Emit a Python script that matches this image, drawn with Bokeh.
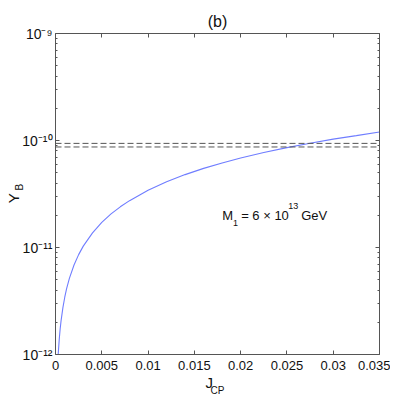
from bokeh.plotting import figure
from bokeh.models import LogAxis, LinearAxis, FixedTicker, Span, Label, Range1d
from bokeh.embed import file_html
from bokeh.resources import INLINE

# ---- data ----
j_cp = [0.00029, 0.0004, 0.0005, 0.0006, 0.0008, 0.001, 0.0012, 0.0015, 0.002,
        0.0025, 0.003, 0.004, 0.005, 0.006, 0.007, 0.008, 0.01, 0.012, 0.014,
        0.016, 0.018, 0.02, 0.0225, 0.025, 0.0275, 0.03, 0.0325, 0.035]
y_b = [1.0e-12, 1.37e-12, 1.72e-12, 2.06e-12, 2.74e-12, 3.43e-12, 4.12e-12, 5.15e-12, 6.86e-12,
       8.58e-12, 1.03e-11, 1.37e-11, 1.72e-11, 2.06e-11, 2.40e-11, 2.74e-11, 3.43e-11, 4.12e-11, 4.80e-11,
       5.49e-11, 6.17e-11, 6.86e-11, 7.72e-11, 8.58e-11, 9.43e-11, 1.03e-10, 1.11e-10, 1.20e-10]
obs_bounds = [8.7e-11, 9.4e-11]

x_ticks = [0, 0.005, 0.01, 0.015, 0.02, 0.025, 0.03, 0.035]
x_tick_labels = ["0", "0.005", "0.01", "0.015", "0.02", "0.025", "0.03", "0.035"]
y_ticks = [1e-12, 1e-11, 1e-10, 1e-9]
y_tick_labels = ["10\u207b\u00b9\u00b2", "10\u207b\u00b9\u00b9", "10\u207b\u00b9\u2070", "10\u207b\u2079"]

title_text = "(b)"
x_label = ("J", "CP")
y_label = ("Y", "B")
annot = ("M", "1", "= 6 \u00d7 10", "13", "GeV")
annot_x, annot_y = 0.018, 2.0e-11

FONT = "Liberation Sans"
AX = "#555555"
TXT = "#111111"
NB = "\u00a0"

p = figure(width=390, height=398, y_axis_type="log",
           x_range=Range1d(x_ticks[0], x_ticks[-1]),
           y_range=Range1d(y_ticks[0], y_ticks[-1]),
           output_backend="svg", toolbar_location=None,
           min_border_left=55, min_border_right=11,
           min_border_top=33, min_border_bottom=44)
p.grid.visible = False
p.outline_line_color = None
p.background_fill_color = "white"
p.border_fill_color = "white"

xt = FixedTicker(ticks=x_ticks, minor_ticks=[])
yt = FixedTicker(ticks=y_ticks,
                 minor_ticks=[k * t for t in y_ticks[:-1] for k in range(2, 10)])


def style(ax):
    ax.axis_line_color = AX
    ax.axis_line_width = 1
    ax.major_tick_in = 4
    ax.major_tick_out = 0
    ax.minor_tick_in = 2
    ax.minor_tick_out = 0
    ax.major_tick_line_color = AX
    ax.minor_tick_line_color = AX
    ax.major_label_text_font = FONT
    ax.major_label_text_font_size = "13px"
    ax.major_label_text_color = TXT
    ax.axis_label_text_font = FONT
    ax.axis_label_text_font_style = "normal"
    ax.axis_label_text_color = TXT


def label_axis(ax, text, size, standoff):
    # an empty axis that only carries a (sub)label text
    ax.ticker = FixedTicker(ticks=[], minor_ticks=[])
    ax.axis_line_color = None
    ax.major_tick_in = 0
    ax.major_tick_out = 0
    ax.minor_tick_in = 0
    ax.minor_tick_out = 0
    ax.major_label_standoff = 0
    ax.major_label_text_font_size = "0px"
    ax.axis_label = text
    ax.axis_label_text_font = FONT
    ax.axis_label_text_font_style = "normal"
    ax.axis_label_text_font_size = f"{size}px"
    ax.axis_label_text_color = TXT
    ax.axis_label_standoff = standoff


# bottom axis
bx = p.xaxis[0]
bx.ticker = xt
style(bx)
bx.major_label_overrides = {t: s for t, s in zip(x_ticks, x_tick_labels)}
bx.major_label_standoff = 6
bx.axis_label = x_label[0] + NB * 4
bx.axis_label_text_font_size = "15px"
bx.axis_label_standoff = 1
bx2 = LinearAxis()
label_axis(bx2, x_label[1], 10, -9)
p.add_layout(bx2, "below")

# left axis
ly = p.yaxis[0]
ly.ticker = yt
style(ly)
ly.major_label_text_font_size = "14px"
ly.major_label_overrides = {t: s for t, s in zip(y_ticks, y_tick_labels)}
ly.major_label_standoff = 3
ly.axis_label = NB * 5 + y_label[1]
ly.axis_label_text_font_size = "10px"
ly.axis_label_standoff = -6
ly2 = LinearAxis()
label_axis(ly2, y_label[0] + NB * 2, 15, -10)
p.add_layout(ly2, "left")

# top and right axes (box)
tx = LinearAxis(ticker=xt)
style(tx)
tx.major_label_overrides = {t: "" for t in x_ticks}
tx.major_label_text_font_size = "0px"
tx.major_label_standoff = 0
p.add_layout(tx, "above")

ry = LogAxis(ticker=yt)
style(ry)
ry.major_label_overrides = {t: "" for t in y_ticks}
ry.major_label_text_font_size = "0px"
ry.major_label_standoff = 0
p.add_layout(ry, "right")

# title
p.title.text = title_text
p.title.align = "center"
p.title.text_font = FONT
p.title.text_font_size = "16px"
p.title.text_font_style = "normal"
p.title.text_color = TXT
p.title.standoff = 8

# observed range (dashed)
for v in obs_bounds:
    p.add_layout(Span(location=v, dimension="width", line_color="#555555",
                      line_width=1, line_dash="6 3"))

# curve
p.line(j_cp, y_b, line_color="#6f7dff", line_width=1.1)


def lab(text, dx, dy, size):
    p.add_layout(Label(x=annot_x, y=annot_y, x_offset=dx, y_offset=dy, text=text,
                       text_font=FONT, text_font_size=f"{size}px",
                       text_align="left", text_baseline="middle", text_color=TXT))


# annotation M_1 = 6 x 10^13 GeV
lab(annot[0], 0, 0, 13)
lab(annot[1], 10.8, -8, 9)
lab(annot[2], 19.0, 0, 13)
lab(annot[3], 66.0, 9, 9)
lab(annot[4], 79.0, 0, 13)

open("out.html", "w").write(file_html(p, INLINE))
